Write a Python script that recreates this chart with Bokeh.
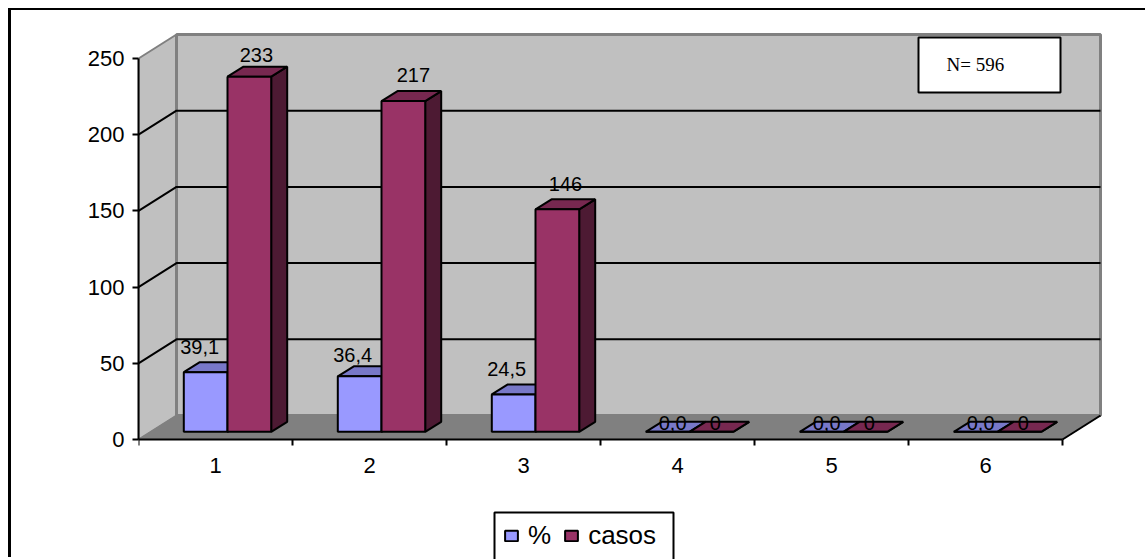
from bokeh.plotting import figure
from bokeh.embed import file_html
from bokeh.resources import INLINE
from bokeh.core.properties import value
from bokeh.models import (ColumnDataSource, FixedTicker, Legend, LegendItem,
                          BoxAnnotation, Label)

# ---- data ----
categories = [1, 2, 3, 4, 5, 6]
pct_values = [39.1, 36.4, 24.5, 0.0, 0.0, 0.0]
casos_values = [233, 217, 146, 0, 0, 0]
pct_labels = ["39,1", "36,4", "24,5", "0,0", "0,0", "0,0"]
casos_labels = ["233", "217", "146", "0", "0", "0"]
y_ticks = [0, 50, 100, 150, 200, 250]
note_text = "N= 596"

# ---- layout (pixels) ----
W, H = 1137, 549
ML, MT = 127, 20                   # frame borders
FW, FH = 966, H - 20
BELOW_ZERO = 120                   # frame pixels under value 0, for axis labels and legend
PX_X, PX_Y = 154.0, 1.524          # pixels per category, per value unit
xr0 = 0.5
xr1 = xr0 + FW / PX_X
yr0 = -BELOW_ZERO / PX_Y
yr1 = yr0 + FH / PX_Y

def ux(px):
    return px / PX_X

def uy(px):
    return px / PX_Y

WALL_DX, WALL_DY = ux(38), uy(24)
INSET_X, INSET_Y = ux(12), uy(7.7)
BAR_DX, BAR_DY = ux(16), uy(10)
BAR_W = ux(43.7)
x_lo, x_hi = categories[0] - 0.5, categories[-1] + 0.5
y_top = y_ticks[-1]

p = figure(width=W, height=H, output_backend="svg", toolbar_location=None,
           x_range=(xr0, xr1), y_range=(yr0, yr1),
           min_border_left=ML, min_border_right=W - ML - FW,
           min_border_top=MT, min_border_bottom=0,
           background_fill_color="white", border_fill_color="white",
           outline_line_color=None,
           margin=(10, 0, 0, 11),
           styles={"box-shadow": "-3px -2px 0 0 #000"})
p.grid.visible = False

GRAY = "#808080"
WALL = "#C0C0C0"
# side wall, back wall, floor
p.patch([x_lo, x_lo, x_lo + WALL_DX, x_lo + WALL_DX], [0, y_top, y_top + WALL_DY, WALL_DY],
        fill_color=WALL, line_color=GRAY, line_width=2)
p.patch([x_lo + WALL_DX, x_hi + WALL_DX, x_hi + WALL_DX, x_lo + WALL_DX],
        [WALL_DY, WALL_DY, y_top + WALL_DY, y_top + WALL_DY],
        fill_color=WALL, line_color=GRAY, line_width=3)
p.patch([x_lo, x_hi, x_hi + WALL_DX, x_lo + WALL_DX], [0, 0, WALL_DY, WALL_DY],
        fill_color=GRAY, line_color=GRAY, line_width=1)
# gridlines
grid = [t for t in y_ticks if 0 < t < y_top]
p.multi_line([[x_lo, x_lo + WALL_DX, x_hi + WALL_DX] for t in grid],
             [[t, t + WALL_DY, t + WALL_DY] for t in grid],
             line_color="black", line_width=2)
# floor's outer edge on the right
p.line([x_hi, x_hi + WALL_DX], [0, WALL_DY], line_color="black", line_width=2)

def draw_series(vals, slot, front, top, side):
    lefts = [c + INSET_X + (slot - 1) * BAR_W for c in categories]
    rights = [l + BAR_W for l in lefts]
    bots = [INSET_Y] * len(vals)
    tops = [v + INSET_Y for v in vals]
    p.patches([[r, r + BAR_DX, r + BAR_DX, r] for r in rights],
              [[b, b + BAR_DY, t + BAR_DY, t] for b, t in zip(bots, tops)],
              fill_color=side, line_color="black", line_width=2)
    p.patches([[l, l + BAR_DX, r + BAR_DX, r] for l, r in zip(lefts, rights)],
              [[t, t + BAR_DY, t + BAR_DY, t] for t in tops],
              fill_color=top, line_color="black", line_width=2)
    return p.quad(left=lefts, right=rights, bottom=bots, top=tops,
                  fill_color=front, line_color="black", line_width=2), lefts

r_pct, pct_lefts = draw_series(pct_values, 0, "#9999FF", "#7878C8", "#5A5A99")
r_cas, cas_lefts = draw_series(casos_values, 1, "#993366", "#772850", "#4D1A33")

LABEL_FONT = value("Liberation Sans")
def labels(lefts, vals, txt, dx, dy):
    src = ColumnDataSource(dict(x=[l + BAR_W / 2 for l in lefts],
                                y=[v + INSET_Y for v in vals],
                                t=txt, dx=dx, dy=dy))
    p.text(x="x", y="y", text="t", x_offset="dx", y_offset="dy", source=src,
           text_font=LABEL_FONT, text_font_size="20px", text_color="black",
           text_align="center", text_baseline="middle")

labels(pct_lefts, pct_values, pct_labels, [-6, -7, -7, 5, 5, 5], [-25, -21, -25, -9, -9, -9])
labels(cas_lefts, casos_values, casos_labels, [7, 10, 8, 4, 4, 4], [-22, -26, -25, -9, -9, -9])

# axes
ya = p.yaxis[0]
ya.ticker = FixedTicker(ticks=y_ticks)
ya.bounds = (0, y_top)
ya.axis_line_color = "black"
ya.axis_line_width = 2
ya.major_tick_in = 0
ya.major_tick_out = 6
ya.major_tick_line_width = 2
ya.major_tick_line_color = "black"
ya.minor_tick_line_color = None
ya.major_label_standoff = 8
ya.major_label_text_font = "Liberation Sans"
ya.major_label_text_font_size = "22px"
ya.major_label_text_color = "black"

xa = p.xaxis[0]
xa.fixed_location = 0
xa.ticker = FixedTicker(ticks=categories, minor_ticks=[x_lo + i for i in range(len(categories) + 1)])
xa.bounds = (x_lo, x_hi)
xa.axis_line_color = "black"
xa.axis_line_width = 2
xa.major_tick_line_color = None
xa.major_tick_in = 0
xa.major_tick_out = 0
xa.minor_tick_line_color = "black"
xa.minor_tick_line_width = 2
xa.minor_tick_in = 0
xa.minor_tick_out = 6
xa.major_label_standoff = 12
xa.major_label_text_font = "Liberation Sans"
xa.major_label_text_font_size = "22px"
xa.major_label_text_color = "black"

# legend frame (runs off the bottom of the picture), then legend entries on top of it
p.add_layout(BoxAnnotation(left=483, right=662, top=502, bottom=553,
                           left_units="canvas", right_units="canvas",
                           top_units="canvas", bottom_units="canvas",
                           fill_color="white", fill_alpha=1,
                           line_color="black", line_alpha=1, line_width=2))
legend = Legend(items=[LegendItem(label=value("%"), renderers=[r_pct]),
                       LegendItem(label=value("casos"), renderers=[r_cas])],
                orientation="horizontal", location=(365, 8),
                border_line_color=None, background_fill_alpha=0,
                glyph_width=16, glyph_height=13, padding=0, spacing=12, margin=0,
                label_standoff=9, label_text_font="Liberation Sans",
                label_text_font_size="26px", label_text_color="black")
p.add_layout(legend, "center")

# note box
p.add_layout(BoxAnnotation(left=907, right=1049, top=27, bottom=82,
                           left_units="canvas", right_units="canvas",
                           top_units="canvas", bottom_units="canvas",
                           fill_color="white", fill_alpha=1,
                           line_color="black", line_alpha=1, line_width=2, level="overlay"))
p.add_layout(Label(x=935, y=54, x_units="canvas", y_units="canvas", text=note_text,
                   text_font="Liberation Serif", text_font_size="19px", text_color="black",
                   text_baseline="middle", level="overlay"))

open("out.html", "w").write(file_html(p, INLINE))
